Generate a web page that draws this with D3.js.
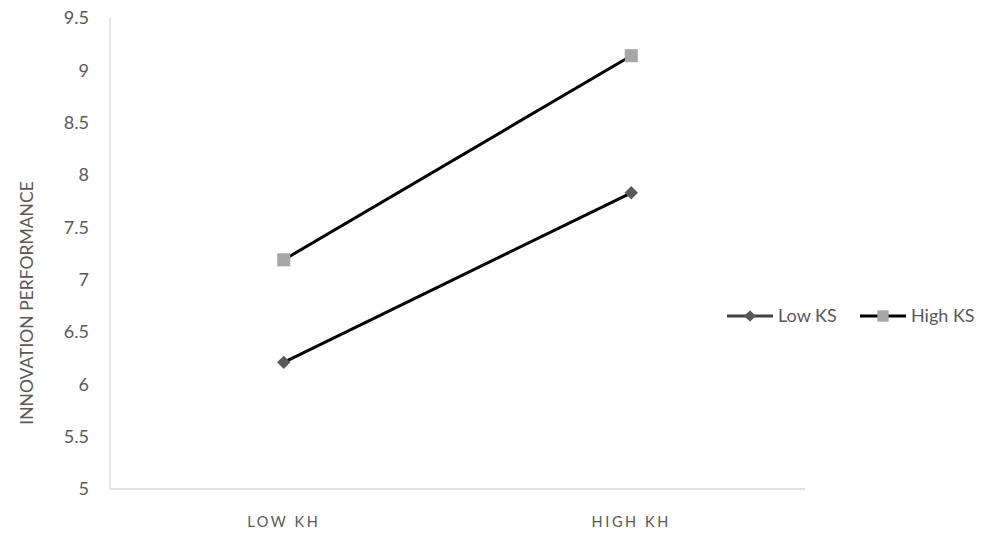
<!DOCTYPE html>
<html><head><meta charset="utf-8">
<script src="https://cdn.jsdelivr.net/npm/d3@7"></script>
<style>body{margin:0;background:#fff;} svg{display:block;}</style>
</head><body>
<svg id="c" width="990" height="533"></svg>
<script>
const categories = ["LOW KH", "HIGH KH"];
const seriesNames = ["Low KS", "High KS"];
const lowKS = [6.21, 7.83];
const highKS = [7.19, 9.14];
const yTicks = [5, 5.5, 6, 6.5, 7, 7.5, 8, 8.5, 9, 9.5];

(function () {
const svg = d3.select("#c");
const font = "Lato, 'Open Sans', sans-serif";
const mLeft = 110, mRight = 805, mTop = 18, mBottom = 489;

const x = d3.scaleBand().domain(categories).range([mLeft, mRight]);
const y = d3.scaleLinear().domain([5, 9.5]).range([mBottom, mTop]);

// axes lines
svg.append("line").attr("x1", mLeft).attr("x2", mLeft).attr("y1", mTop).attr("y2", mBottom)
  .attr("stroke", "#d9d9d9").attr("stroke-width", 1.3);
svg.append("line").attr("x1", mLeft).attr("x2", mRight).attr("y1", mBottom).attr("y2", mBottom)
  .attr("stroke", "#d9d9d9").attr("stroke-width", 1.3);

// y tick labels
svg.selectAll("text.yt").data(yTicks).enter().append("text")
  .attr("x", 89).attr("y", d => y(d)).attr("dy", "0.35em")
  .attr("text-anchor", "end").attr("fill", "#595959")
  .style("font-family", font).style("font-size", "18px")
  .text(d => d3.format("")(d));

// x labels
svg.selectAll("text.xt").data(categories).enter().append("text")
  .attr("x", d => x(d) + x.bandwidth() / 2).attr("y", 527)
  .attr("text-anchor", "middle").attr("fill", "#595959")
  .style("font-family", font).style("font-size", "14.5px").style("letter-spacing", "2.6px")
  .text(d => d);

// y title
svg.append("text").attr("transform", "translate(33,303) rotate(-90)")
  .attr("text-anchor", "middle").attr("fill", "#595959")
  .style("font-family", font).style("font-size", "17.5px")
  .text("INNOVATION PERFORMANCE");

const line = d3.line().x((d, i) => x(categories[i]) + x.bandwidth() / 2).y(d => y(d));
const series = [
  {name: seriesNames[0], vals: lowKS, size: 90, rot: 45, fill: "#595959"},
  {name: seriesNames[1], vals: highKS, size: 170, rot: 0, fill: "#a6a6a6"}
];

series.forEach(s => {
  svg.append("path").attr("d", line(s.vals)).attr("fill", "none")
    .attr("stroke", "#000").attr("stroke-width", 3);
  svg.selectAll(null).data(s.vals).enter().append("path")
    .attr("d", d3.symbol().type(d3.symbolSquare).size(s.size))
    .attr("transform", (d, i) => `translate(${x(categories[i]) + x.bandwidth() / 2},${y(d)}) rotate(${s.rot})`)
    .attr("fill", s.fill);
});

// legend
const legX = [727, 860];
series.forEach((s, i) => {
  const lx = legX[i], ly = 316;
  svg.append("line").attr("x1", lx).attr("x2", lx + 46).attr("y1", ly).attr("y2", ly)
    .attr("stroke", i === 0 ? "#404040" : "#000").attr("stroke-width", 3);
  svg.append("path").attr("d", d3.symbol().type(d3.symbolSquare).size(s.size * 0.75))
    .attr("transform", `translate(${lx + 23},${ly}) rotate(${s.rot})`).attr("fill", s.fill);
  svg.append("text").attr("x", lx + 51).attr("y", ly).attr("dy", "0.35em")
    .attr("fill", "#595959").style("font-family", font).style("font-size", "18px")
    .text(s.name);
});
})();
</script>
</body></html>
